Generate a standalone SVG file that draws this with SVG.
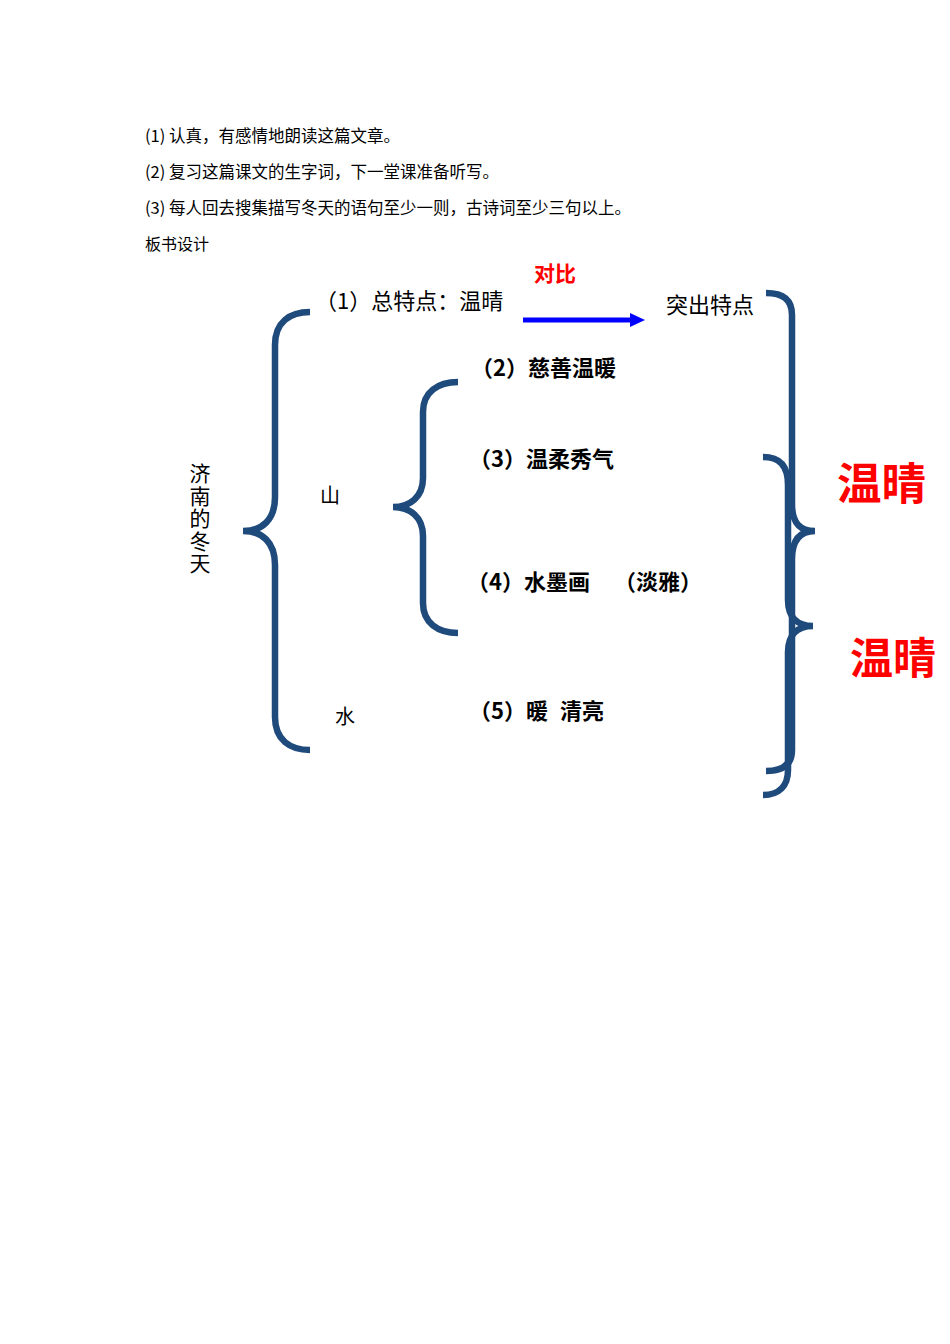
<svg xmlns="http://www.w3.org/2000/svg" width="950" height="1344" viewBox="0 0 950 1344">
<style>
.t{font-family:"Noto Sans CJK SC","Liberation Serif",sans-serif;fill:#000}
.s{font-size:16.5px}
.m{font-size:22px}
.b{font-size:22px;font-weight:bold}
.r{fill:#ff0000;font-weight:bold;font-family:"Noto Sans CJK SC",sans-serif}
.br{fill:none;stroke:#1f4a7c;stroke-width:6.5;stroke-linecap:butt;stroke-linejoin:miter}
</style>
<rect width="950" height="1344" fill="#ffffff"/>
<g id="homework">
<text class="t s" x="145" y="142">(1)<tspan x="169">认真，有感情地朗读这篇文章。</tspan></text>
<text class="t s" x="145" y="178">(2)<tspan x="169">复习这篇课文的生字词，下一堂课准备听写。</tspan></text>
<text class="t s" x="145" y="214">(3)<tspan x="169">每人回去搜集描写冬天的语句至少一则，古诗词至少三句以上。</tspan></text>
<text class="t" x="145" y="250" font-size="16">板书设计</text>
</g>
<g id="connectors">
<path class="br" d="M310,312 C290,312 275,322 275,345 L275,497 C275,520 262,531 243,531 C262,531 275,542 275,565 L275,717 C275,740 290,750 310,750"/>
<path class="br" d="M458,382 C438,382 423,392 423,412 L423,478 C423,497 410,507 393,507 C410,507 423,517 423,536 L423,603 C423,623 438,633 458,633"/>
<path class="br" d="M766,293 C782,293 792,299 792,315 L792,504 C792,523 800,531 815,531 C800,531 792,540 792,559 L792,750 C792,765 782,771 766,771"/>
<path class="br" d="M763,457 C779,457 788,465 788,485 L788,600 C788,618 798,626 813,626 C798,626 788,634 788,652 L788,770 C788,786 779,795 763,795"/>
<line x1="523" y1="320" x2="633" y2="320" stroke="#0000ff" stroke-width="5"/>
<polygon points="630,313 645,320 630,327" fill="#0000ff"/>
</g>
<g id="node-title"><text class="t" x="200" y="463" font-size="21" writing-mode="vertical-rl" letter-spacing="1.4">济南的冬天</text></g>
<g id="node-1"><text class="t m" x="315" y="309">（1）总特点：温晴</text></g>
<g id="node-contrast"><text class="r" x="534" y="281" font-size="21">对比</text></g>
<g id="node-highlight"><text class="t" x="666" y="313" font-size="22">突出特点</text></g>
<g id="node-2"><text class="t b" x="471" y="376">（2）慈善温暖</text></g>
<g id="node-mountain"><text class="t" x="320" y="503" font-size="20">山</text></g>
<g id="node-3"><text class="t b" x="469" y="467">（3）温柔秀气</text></g>
<g id="node-4"><text class="t b" x="467" y="590">（4）水墨画</text><text class="t b" x="614" y="590">（淡雅）</text></g>
<g id="node-water"><text class="t" x="335" y="724" font-size="20">水</text></g>
<g id="node-5"><text class="t b" x="469" y="719">（5）暖</text><text class="t b" x="560" y="719">清亮</text></g>
<g id="node-warm1"><text class="r" x="837" y="499.5" font-size="44.5">温晴</text></g>
<g id="node-warm2"><text class="r" x="850" y="673.5" font-size="43">温晴</text></g>
</svg>
